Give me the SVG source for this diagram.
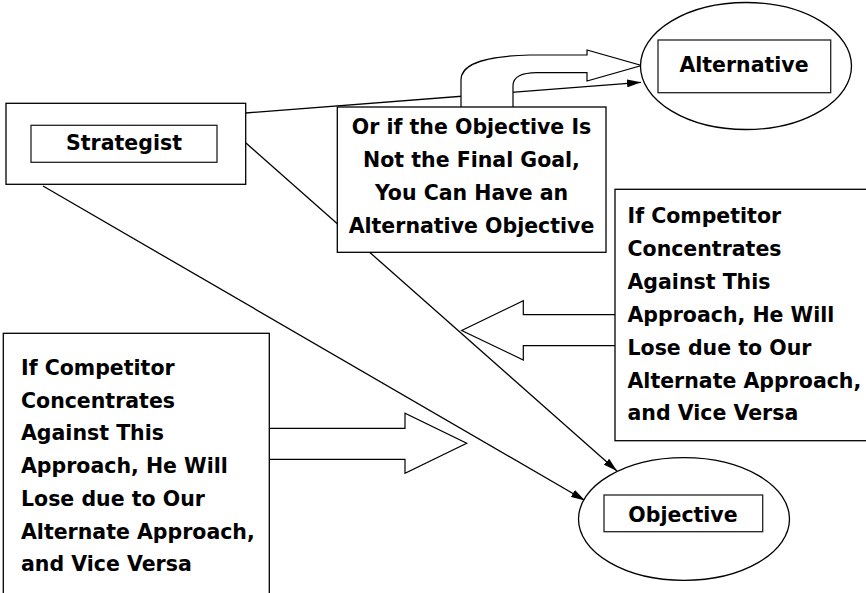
<svg xmlns="http://www.w3.org/2000/svg" width="866" height="593" viewBox="0 0 866 593">
<style>
.box{fill:#fff;stroke:#000;stroke-width:1.3}
.inner{fill:#fff;stroke:#222;stroke-width:1.3}
.ln{fill:none;stroke:#000;stroke-width:1.3}
.blk{fill:#fff;stroke:#000;stroke-width:1.2;stroke-linejoin:miter}
text{font-family:"DejaVu Sans","Liberation Sans",sans-serif;font-weight:bold;font-size:20.5px;fill:#000}
.c{text-anchor:middle}
</style>
<defs>
<marker id="ah" markerUnits="userSpaceOnUse" markerWidth="14" markerHeight="8" refX="14" refY="4" orient="auto">
<path d="M0,0 L14,4 L0,8 z" fill="#000"/>
</marker>
</defs>
<rect width="866" height="593" fill="#fff"/>
<g id="connectors">
<line class="ln" x1="245.7" y1="113" x2="641" y2="82.3" marker-end="url(#ah)"/>
<line class="ln" x1="245.7" y1="142.7" x2="617" y2="471" marker-end="url(#ah)"/>
<line class="ln" x1="43" y1="186" x2="585" y2="500.5" marker-end="url(#ah)"/>
</g>
<g id="block-arrows">
<path id="curved-arrow" class="blk" d="M461,107 L461,80 C461,62 490,56 530,55 L587,55 L587,50 L641.5,65.5 L587,81 L587,72.7 L537,72.7 C522,73 513,76 513,86 L513,107"/>
<path id="right-block-arrow" class="blk" d="M615,314.7 L523.3,314.7 L523.3,300.7 L461.7,330.5 L523.3,360 L523.3,345.7 L615,345.7"/>
<path id="left-block-arrow" class="blk" d="M269,428.3 L405,428.3 L405,413.3 L466.7,443.3 L405,473.3 L405,459.3 L269,459.3"/>
</g>
<g id="strategist">
<rect class="box" x="6" y="103.3" width="239.7" height="81"/>
<rect class="inner" x="31" y="125.3" width="186" height="37"/>
<text class="c" x="124" y="150">Strategist</text>
</g>
<g id="alternative">
<ellipse class="box" cx="746" cy="66" rx="105.5" ry="63.5"/>
<rect class="inner" x="658" y="40" width="172.7" height="52.7"/>
<text class="c" x="744" y="71.7">Alternative</text>
</g>
<g id="objective">
<ellipse class="box" cx="684" cy="519" rx="105.5" ry="61.3"/>
<rect class="inner" x="604" y="495" width="158.7" height="36.7"/>
<text class="c" x="683" y="521.7">Objective</text>
</g>
<g id="alt-objective-note">
<rect class="box" x="337.3" y="107" width="268.7" height="145.3"/>
<text class="c" x="471.5" y="134">Or if the Objective Is</text>
<text class="c" x="471.5" y="167">Not the Final Goal,</text>
<text class="c" x="471.5" y="200">You Can Have an</text>
<text class="c" x="471.5" y="233">Alternative Objective</text>
</g>
<g id="right-note">
<rect class="box" x="615" y="189.3" width="260" height="251.4"/>
<text x="627.5" y="223">If Competitor</text>
<text x="627.5" y="255.9">Concentrates</text>
<text x="627.5" y="288.8">Against This</text>
<text x="627.5" y="321.7">Approach, He Will</text>
<text x="627.5" y="354.6">Lose due to Our</text>
<text x="627.5" y="387.5">Alternate Approach,</text>
<text x="627.5" y="420.4">and Vice Versa</text>
</g>
<g id="left-note">
<rect class="box" x="3.3" y="333.3" width="266" height="280"/>
<text x="21" y="375">If Competitor</text>
<text x="21" y="407.7">Concentrates</text>
<text x="21" y="440.4">Against This</text>
<text x="21" y="473.1">Approach, He Will</text>
<text x="21" y="505.8">Lose due to Our</text>
<text x="21" y="538.5">Alternate Approach,</text>
<text x="21" y="571.2">and Vice Versa</text>
</g>
</svg>
